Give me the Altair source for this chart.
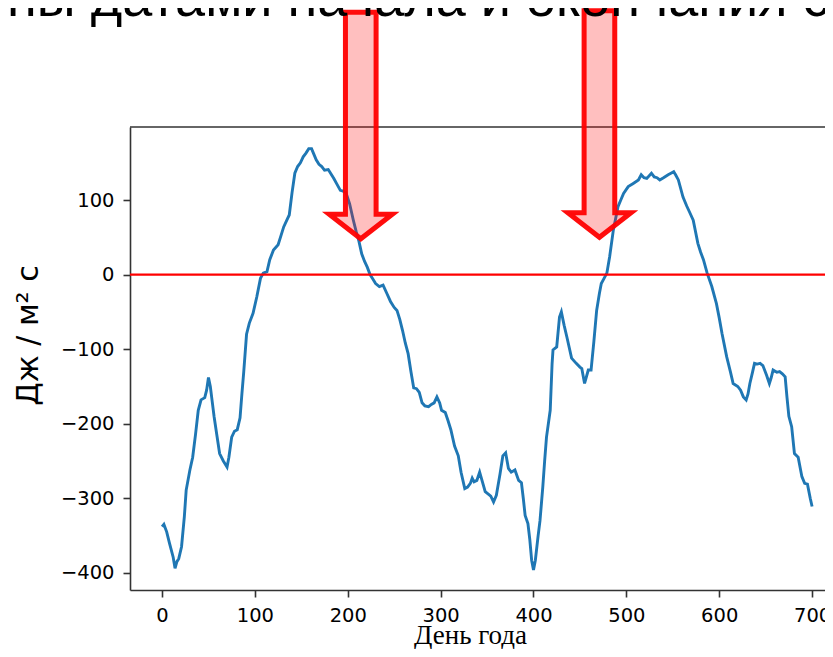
import altair as alt
import pandas as pd

# ---- series ----
days = [0, 2, 5, 8, 12, 14, 16, 18, 21, 24, 26, 30, 33, 36, 39, 42, 46, 48, 50, 52,
        54, 56, 59, 62, 66, 70, 72, 75, 78, 81, 84, 86, 88, 91, 94, 98, 102, 106, 109, 113,
        116, 120, 125, 128, 131, 134, 137, 140, 143, 146, 149, 152, 155, 158, 161, 163, 166, 169, 172, 175,
        179, 182, 185, 188, 192, 195, 198, 202, 206, 209, 212, 215, 218, 221, 224, 227, 230, 234, 238, 242,
        246, 250, 253, 256, 259, 262, 265, 268, 271, 274, 277, 280, 283, 287, 290, 293, 296, 299, 301, 305,
        308, 311, 315, 319, 322, 326, 329, 332, 334, 336, 339, 342, 345, 348, 351, 354, 357, 360, 364, 367,
        370, 373, 376, 380, 384, 387, 389, 391, 394, 396, 398, 400, 402, 405, 407, 410, 412, 414, 418, 420,
        421, 425, 428, 430, 433, 436, 441, 446, 450, 452, 455, 459, 462, 465, 468, 471, 473, 476, 479, 482,
        486, 491, 494, 497, 502, 507, 513, 516, 519, 522, 527, 530, 533, 536, 540, 545, 548, 551, 553, 556,
        561, 565, 568, 572, 577, 580, 583, 587, 592, 597, 600, 603, 608, 612, 615, 620, 623, 626, 629, 631,
        633, 636, 638, 641, 644, 647, 651, 654, 656, 658, 662, 665, 668, 671, 673, 675, 678, 681, 685, 689,
        692, 695, 698, 700]
values = [-338, -335, -345, -360, -379, -394, -385, -381, -365, -325, -289, -262, -245, -215, -182, -168, -165, -155, -138, -150,
          -170, -190, -215, -240, -250, -258, -245, -218, -210, -208, -192, -160, -130, -80, -65, -52, -30, -5, 2, 4,
          20, 33, 40, 52, 64, 72, 80, 110, 136, 145, 150, 158, 163, 169, 169, 163, 154, 148, 145, 140,
          141, 135, 129, 122, 113, 112, 110, 95, 73, 58, 45, 28, 18, 10, 0, -6, -12, -16, -14, -25,
          -36, -44, -48, -60, -75, -92, -106, -130, -152, -153, -158, -172, -176, -177, -174, -172, -164, -172, -182, -185,
          -196, -208, -230, -243, -265, -287, -285, -280, -273, -278, -276, -265, -278, -291, -294, -297, -305, -296, -267, -243,
          -239, -260, -265, -262, -276, -279, -300, -323, -334, -355, -383, -396, -383, -350, -330, -285, -250, -218, -182, -120,
          -101, -97, -57, -50, -68, -84, -112, -119, -124, -126, -146, -128, -128, -90, -48, -25, -12, -5, 2, 24,
          60, 91, 100, 109, 118, 122, 127, 134, 130, 129, 136, 131, 130, 127, 130, 134, 136, 138, 134, 127,
          104, 92, 84, 73, 42, 30, 20, 2, -16, -39, -58, -79, -110, -130, -146, -150, -155, -164, -168, -160,
          -146, -130, -119, -120, -119, -122, -135, -146, -138, -128, -131, -130, -133, -137, -165, -190, -204, -240, -245, -271,
          -280, -281, -300, -311]

x_ticks = [0, 100, 200, 300, 400, 500, 600, 700]
y_ticks = [-400, -300, -200, -100, 0, 100]

# annotation arrows (data units): centre day, top, tip
arrow_center = [214, 471]
arrow_top = [352, 354]
arrow_tip = [48, 50]

title_text = "ны датами начала и окончания сезона"
x_title = "День года"
y_title = "Дж / м² с"

# ---- build tables ----
series = pd.DataFrame({"day": days, "value": values})

shaft_half, head_half, head_len = 16.5, 34.0, 33.0
rows = []
for i, (c, t, tip) in enumerate(zip(arrow_center, arrow_top, arrow_tip)):
    hy = tip + head_len
    rows += [
        {"id": i, "y": t, "xa": c - shaft_half, "xb": c + shaft_half},
        {"id": i, "y": hy + 0.01, "xa": c - shaft_half, "xb": c + shaft_half},
        {"id": i, "y": hy, "xa": c - head_half, "xb": c + head_half},
        {"id": i, "y": tip, "xa": c, "xb": c},
    ]
arrows = pd.DataFrame(rows)

xscale = alt.Scale(domain=[-34.5, 713.9], nice=False, zero=False)
yscale = alt.Scale(domain=[-423, 198], nice=False, zero=False)

line = alt.Chart(series).mark_line(color="#1f77b4", strokeWidth=2.9).encode(
    x=alt.X("day:Q", scale=xscale,
            axis=alt.Axis(values=x_ticks, title=x_title, titleFont="Liberation Serif",
                          titleFontSize=27, titleFontWeight="normal", titleColor="black",
                          titleX=340, titleY=53, titleBaseline="alphabetic")),
    y=alt.Y("value:Q", scale=yscale,
            axis=alt.Axis(values=y_ticks, title=y_title, titleFont="DejaVu Sans",
                          titleFontSize=30, titleFontWeight="normal", titleColor="black",
                          titleX=-87, titleY=208, titleBaseline="bottom", titleAlign="center",
                          titleAngle=270)),
)

zero = alt.Chart(pd.DataFrame({"z": [0]})).mark_rule(color="red", strokeWidth=2.2).encode(
    y=alt.Y("z:Q", scale=yscale)
)

top_border = alt.Chart(pd.DataFrame({"z": [0]})).mark_rule(color="#333333", strokeWidth=1.6).encode(
    y=alt.value(0)
)

arrow_marks = alt.Chart(arrows).mark_area(
    orient="horizontal", fill="red", fillOpacity=0.25, stroke="red", strokeOpacity=0.95,
    strokeWidth=5, strokeJoin="miter", strokeMiterLimit=10, clip=False
).encode(
    y=alt.Y("y:Q", scale=yscale),
    x=alt.X("xa:Q", scale=xscale),
    x2="xb:Q",
    detail="id:N",
)

title = alt.Chart(pd.DataFrame({"t": [title_text]})).mark_text(
    align="left", baseline="alphabetic", fontSize=54, font="Liberation Sans", color="black"
).encode(
    text="t:N", x=alt.value(-123), y=alt.value(-111)
)

chart = alt.layer(line, zero, top_border, arrow_marks, title).properties(
    width=695, height=463,
    autosize=alt.AutoSizeParams(type="none"),
    padding={"left": 122, "top": 119, "right": 0, "bottom": 59},
).configure_view(stroke=None).configure_axis(
    grid=False, domainColor="#333333", domainWidth=1.6, tickColor="#333333", tickWidth=1.6,
    tickSize=7, labelFont="DejaVu Sans", labelFontSize=19.5, labelColor="black", labelPadding=9,
)

chart.save("out.html", embed_options={"renderer": "svg", "actions": False})
